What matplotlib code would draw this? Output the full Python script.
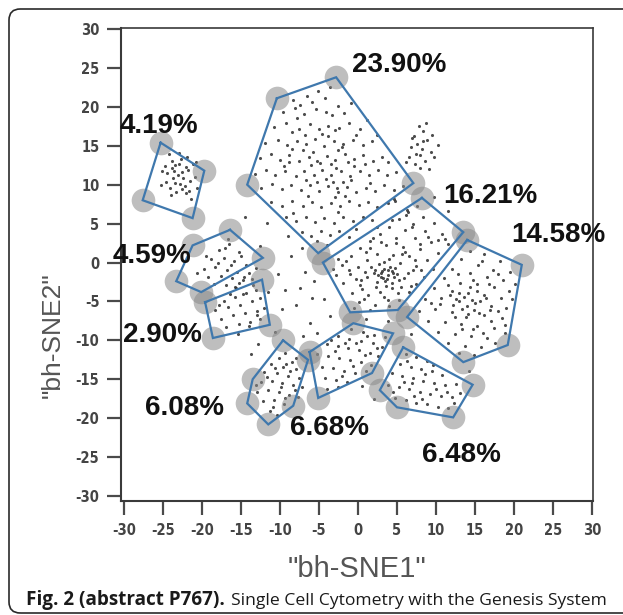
import matplotlib
matplotlib.use("Agg")
import matplotlib.pyplot as plt
import numpy as np
from matplotlib import font_manager
from matplotlib.font_manager import FontProperties
from matplotlib.patches import FancyBboxPatch

# ---- gate outlines (bh-SNE coordinates) ----
gate_labels = ["4.19%", "23.90%", "16.21%", "14.58%", "4.59%",
               "2.90%", "6.08%", "6.68%", "6.48%"]

gate_419 = [(-25.3, 15.4), (-19.7, 11.8), (-21.2, 5.7), (-27.6, 8.0)]
gate_2390 = [(-10.4, 21.1), (-2.8, 23.8), (7.1, 10.2), (-5.1, 1.2), (-14.2, 10.0)]
gate_1621 = [(8.2, 8.3), (13.5, 3.9), (5.1, -6.1), (-1.0, -6.4), (-4.5, 0.0)]
gate_1458 = [(14.0, 2.9), (21.0, -0.3), (19.2, -10.6), (13.5, -12.8), (6.3, -7.0)]
gate_459 = [(-16.4, 4.2), (-12.2, 0.6), (-20.1, -3.8), (-23.3, -2.4), (-21.2, 2.2)]
gate_290 = [(-19.6, -5.1), (-12.3, -2.2), (-11.3, -8.0), (-18.6, -9.7)]
gate_608 = [(-9.6, -10.0), (-6.4, -12.5), (-8.3, -18.4), (-11.5, -20.8),
            (-14.2, -18.1), (-13.5, -15.0)]
gate_668 = [(-6.2, -11.5), (-0.6, -7.8), (4.5, -9.1), (1.8, -14.2), (-5.1, -17.4)]
gate_648 = [(5.8, -10.9), (14.7, -15.7), (12.2, -19.9), (5.0, -18.6), (2.8, -16.4)]

gates = [gate_419, gate_2390, gate_1621, gate_1458, gate_459,
         gate_290, gate_608, gate_668, gate_648]

# label anchor (left edge, baseline) for each gate percentage
label_x = [-30.5, -0.8, 10.9, 19.7, -31.4, -30.1, -27.3, -8.7, 8.2]
label_y = [16.6, 24.5, 7.65, 2.6, -0.06, -10.2, -19.6, -22.2, -25.6]

# ---- events (cells) ----
cells_419 = [(-23.1,11.2),(-22.4,10.8),(-23.8,12.1),(-22.9,12.6),(-24.5,11.5),(-21.8,11.9),
    (-22.2,9.8),(-23.5,10.2),(-24.1,9.6),(-21.5,10.5),(-22.7,13.3),(-23.9,13.0),(-24.8,12.4),
    (-21.2,12.7),(-20.9,11.0),(-22.0,8.9),(-23.3,9.0),(-24.6,10.3),(-25.1,11.8),(-22.5,11.6),
    (-23.6,11.7),(-21.9,13.6),(-20.6,9.6),(-21.4,8.2),(-23.0,14.1),(-24.2,14.0),(-25.3,10.0),
    (-22.8,10.1),(-23.4,12.5),(-21.7,9.2),(-24.0,8.7),(-22.1,12.3),(-20.8,12.9),(-23.7,10.8),
    (-22.6,9.4)]

cells_2390 = [(-8.3,20.9),(-6.5,21.4),(-5.1,22.0),(-4.2,21.1),(-7.4,20.2),(-3.6,22.6),(-5.9,20.6),
    (-9.6,19.3),(-8.1,19.8),(-6.9,19.1),(-5.4,19.7),(-4.1,19.4),(-2.6,20.1),(-1.8,19.2),(-3.3,18.9),
    (-7.8,18.6),(-0.9,20.5),
    (-10.8,17.4),(-9.2,17.9),(-7.6,17.2),(-6.2,17.8),(-5.0,17.1),(-3.8,17.6),(-2.4,17.3),(-1.1,17.9),
    (0.3,17.2),(-8.5,16.8),(-4.6,16.5),(-0.2,16.4),(1.2,18.3),
    (-11.9,15.3),(-10.3,15.8),(-9.1,15.1),(-7.8,15.6),(-6.6,15.2),(-5.5,15.9),(-4.3,15.0),(-3.1,15.6),
    (-1.9,15.2),(-0.7,15.8),(0.6,15.1),(1.8,15.6),(2.4,16.4),(-8.4,14.6),(-2.5,14.4),
    (-12.6,13.4),(-11.2,13.9),(-10.0,13.2),(-8.9,13.8),(-7.5,13.1),(-6.3,13.6),(-5.2,13.0),(-4.0,13.7),
    (-2.9,13.2),(-1.6,13.9),(-0.5,13.3),(0.7,13.8),(1.9,13.1),(3.1,13.6),(3.8,12.9),(-3.5,12.6),
    (-6.0,12.5),(-9.5,12.4),
    (-13.2,11.4),(-11.8,11.9),(-10.6,11.2),(-9.3,11.7),(-8.0,11.1),(-6.9,11.8),(-5.7,11.3),(-4.6,11.9),
    (-3.4,11.2),(-2.2,11.7),(-1.0,11.1),(0.2,11.8),(1.4,11.3),(2.6,11.9),(3.7,11.2),(4.9,11.6),
    (-2.8,12.2),(-4.1,10.7),(-0.5,12.4),
    (-12.4,9.6),(-11.0,10.1),(-9.8,9.4),(-8.6,10.0),(-7.3,9.3),(-6.1,9.9),(-5.0,9.2),(-3.8,9.8),
    (-2.6,9.1),(-1.4,9.7),(-0.2,9.0),(1.0,9.6),(2.2,9.2),(3.4,9.9),(4.6,9.3),(5.8,9.8),(-6.6,10.6),
    (-1.9,10.4),
    (-11.1,7.8),(-9.7,7.2),(-8.4,7.9),(-7.1,7.3),(-5.9,7.8),(-4.7,7.1),(-3.5,7.7),(-2.3,7.2),
    (-1.1,7.9),(0.1,7.4),(1.3,7.8),(2.5,7.1),(3.8,7.6),(4.6,8.2),(-6.4,8.5),(-2.9,8.4),
    (-9.2,5.8),(-7.9,5.3),(-6.7,5.9),(-5.5,5.2),(-4.3,5.7),(-3.1,5.1),(-1.9,5.8),(-0.7,5.3),
    (0.6,5.9),(1.8,5.4),(-8.3,6.4),(-2.5,6.5),
    (-7.2,3.9),(-6.0,3.4),(-4.8,4.1),(-3.6,3.5),(-2.4,4.0),(-1.2,3.3),(-0.3,4.3),(-5.3,2.7),(-4.0,2.2),
    (-3.2,10.3),(-4.9,12.8),(-1.3,12.9),(-2.1,14.8),(-5.8,14.2),(-0.9,10.6),(-3.9,16.2),(-7.0,14.4),
    (0.9,12.6),(-2.7,9.6),(-5.3,10.4),(-1.6,8.6),(1.6,10.2),(-8.9,12.9),(-6.8,16.4),(-3.0,17.0)]

cells_side = [(7.8,17.6),(8.4,16.9),(7.2,16.3),(8.9,15.8),(7.6,15.2),(8.2,14.6),(6.8,14.9),
    (9.3,14.2),(7.9,13.8),(6.5,13.5),(8.6,13.1),(9.8,13.6),(7.3,12.6),(8.0,12.2),(9.1,12.0),
    (6.9,16.0),(8.7,17.9),(7.5,14.0),(10.2,15.1),(6.2,12.9),(8.3,15.6),(9.5,16.4)]

cells_1621 = [(7.6,7.2),(6.4,6.5),(8.3,5.9),(9.7,5.1),(5.2,5.6),(7.1,5.0),(4.0,4.6),(6.0,4.2),
    (8.6,4.0),(10.8,3.6),(2.8,3.7),(4.9,3.1),(7.3,3.2),(9.4,2.6),(11.6,2.4),(1.5,2.8),(3.6,2.2),
    (5.8,2.0),(8.0,1.7),(10.2,1.2),(0.3,1.9),(2.4,1.1),(4.5,1.0),(6.6,0.8),(8.9,0.3),(-0.9,0.8),
    (1.2,0.3),(3.3,0.1),(5.4,-0.1),(7.5,-0.5),(9.6,-0.8),(-2.1,-0.3),(0.0,-0.6),(2.2,-0.9),
    (4.3,-1.1),(6.4,-1.4),(8.5,-1.8),(-3.2,-0.8),(-1.0,-1.5),(1.1,-1.8),(3.2,-2.0),(5.3,-2.3),
    (7.4,-2.7),(-1.9,-2.6),(0.2,-2.9),(2.3,-3.1),(4.4,-3.3),(6.5,-3.8),(-0.8,-3.9),(1.3,-4.2),
    (3.4,-4.4),(5.3,-4.8),(0.1,-5.1),(2.2,-5.5),(4.0,-5.6),(-0.5,-5.8),(1.6,-6.1),
    (3.0,-1.3),(3.8,-1.6),(4.1,-0.6),(2.7,-0.2),(3.5,-2.4),(4.6,-1.9),(2.9,-1.9),(3.9,-0.9),
    (4.8,-0.7),(2.4,-2.5),(3.3,-0.8),(4.3,-2.6),(5.0,-1.5),(2.0,-1.4),(3.6,-3.0),(1.7,-0.6),
    (6.9,4.6),(5.5,-3.1),(-2.8,-1.6),(0.8,-4.7),(9.0,3.3),(7.0,-0.9),(1.9,3.2),(-1.5,0.2),
    (6.1,6.1),(11.2,3.0),(2.5,4.6),(4.4,5.4),(7.9,2.4),(10.3,2.9),(0.9,-1.2),(5.9,-2.0),
    (-0.3,-2.1),(3.9,-4.8),(6.0,1.4),(1.6,1.9),(-2.6,0.4),(8.1,-1.0),(2.8,-3.8),(4.9,2.5),
    (0.5,-3.4),(6.8,-3.0),(3.1,-1.1),(4.5,-1.4),(2.6,-1.6),(3.7,-2.1),(4.0,0.4),(5.7,1.1),
    (1.0,1.4),(-1.2,-0.9),(7.3,0.3),(2.9,2.6),(0.4,-2.3),(5.1,-3.9)]

cells_1458 = [(14.3,1.5),(16.1,1.1),(18.2,0.2),(13.2,0.4),(15.4,-0.3),(17.3,-0.9),(19.5,-1.2),
    (12.1,-0.8),(14.4,-1.4),(16.5,-1.9),(18.6,-2.3),(20.1,-2.8),(11.0,-2.0),(13.1,-2.6),
    (15.3,-2.8),(17.4,-3.2),(19.3,-3.6),(9.8,-3.3),(12.0,-3.6),(14.1,-3.9),(16.2,-4.2),
    (18.3,-4.5),(8.6,-4.7),(10.7,-4.6),(12.9,-5.0),(15.0,-5.2),(17.1,-5.6),(19.0,-5.9),
    (7.8,-6.2),(9.9,-6.0),(12.0,-6.3),(14.1,-6.6),(16.2,-6.8),(18.4,-7.1),(9.0,-7.5),
    (11.1,-7.7),(13.2,-7.9),(15.3,-8.1),(17.4,-8.4),(18.8,-9.0),(10.3,-8.9),(12.4,-9.2),
    (14.5,-9.4),(16.6,-9.7),(11.6,-10.4),(13.7,-10.7),(15.8,-10.9),(17.6,-10.3),(13.0,-11.6),
    (14.9,-11.9),
    (13.6,-4.4),(14.6,-4.8),(15.2,-3.6),(13.0,-3.9),(14.0,-5.6),(15.7,-5.0),(12.6,-4.7),
    (14.9,-6.1),(13.4,-6.0),(16.4,-4.6),(12.2,-5.5),(15.5,-6.5),(14.3,-3.2),(13.8,-7.0),
    (17.9,-1.5),(19.8,-4.7),(10.5,-5.3),(16.0,-9.0),(12.8,-1.5),(18.0,-6.2),(11.5,-2.9),
    (15.9,0.2),(17.0,-7.5),(14.8,-8.6),(9.4,-5.2),(16.8,-2.8),(13.3,-8.6),(11.8,-4.2),
    (16.9,-6.1),(14.7,-2.2),(12.5,-7.0),(18.9,-8.0)]

cells_459 = [(-17.8,1.6),(-16.5,2.4),(-15.3,1.3),(-18.9,0.4),(-17.2,0.6),(-15.9,0.2),(-14.4,-0.3),
    (-19.8,-0.8),(-18.3,-0.6),(-16.8,-0.9),(-15.5,-1.2),(-14.0,-1.4),(-13.1,-0.7),(-19.2,-1.9),
    (-17.6,-1.7),(-16.1,-2.0),(-14.8,-2.3),(-18.4,-2.8),(-16.9,-2.9),(-15.3,-2.6),(-20.6,-1.4),
    (-17.0,1.9),(-15.0,0.9),(-16.3,-0.3),(-18.0,-0.1),(-14.6,-1.8),(-13.6,-2.1),(-16.7,3.0),
    (-19.5,0.9),(-15.8,-3.2)]

cells_290 = [(-17.2,-4.9),(-15.8,-4.4),(-14.3,-3.9),(-13.1,-3.5),(-18.3,-6.1),(-16.7,-5.7),
    (-15.1,-5.4),(-13.6,-5.0),(-12.5,-4.6),(-17.5,-7.2),(-16.0,-6.8),(-14.5,-6.5),(-13.0,-6.2),
    (-12.0,-5.8),(-16.9,-8.3),(-15.2,-7.9),(-13.8,-7.6),(-12.6,-7.3),(-14.8,-4.0),(-13.4,-2.9),
    (-15.6,-3.3),(-17.8,-5.5),(-14.0,-8.2),(-16.4,-4.0),(-12.9,-6.7)]

cells_608 = [(-9.3,-11.6),(-10.1,-12.3),(-8.5,-12.8),(-11.2,-13.0),(-9.6,-13.4),(-8.0,-13.7),
    (-12.0,-14.1),(-10.4,-14.2),(-9.0,-14.6),(-7.6,-14.9),(-12.4,-15.4),(-11.0,-15.2),
    (-9.7,-15.5),(-8.3,-15.8),(-7.2,-16.0),(-12.9,-16.6),(-11.5,-16.4),(-10.1,-16.7),
    (-8.8,-17.0),(-7.7,-17.3),(-12.2,-17.8),(-10.8,-17.7),(-9.5,-18.2),(-11.3,-19.1),
    (-10.4,-19.6),(-9.2,-13.1),(-8.7,-14.0),(-10.6,-13.6),(-9.9,-16.0),(-8.1,-16.4),
    (-11.7,-14.7),(-13.1,-15.8),(-7.9,-12.3),(-10.9,-18.5),(-9.4,-17.4)]

cells_668 = [(-0.9,-8.6),(0.6,-8.9),(2.1,-9.3),(3.5,-9.6),(-2.5,-9.4),(-1.1,-9.8),(0.4,-10.1),
    (1.9,-10.4),(3.1,-10.9),(-4.0,-10.5),(-2.6,-10.7),(-1.3,-11.0),(0.1,-11.3),(1.5,-11.6),
    (2.6,-12.0),(-5.2,-11.8),(-3.8,-12.0),(-2.4,-12.3),(-1.0,-12.5),(0.4,-12.8),(1.7,-13.2),
    (-4.6,-13.4),(-3.2,-13.6),(-1.8,-13.9),(-0.4,-14.2),(1.0,-14.0),(-4.2,-14.9),(-2.8,-15.1),
    (-1.4,-15.4),(-4.0,-16.3),(-2.6,-16.0),(-0.2,-10.4),(-1.7,-10.3),(0.9,-11.9),(-3.0,-11.4),
    (2.4,-11.0),(-0.6,-13.3),(-2.1,-14.6),(1.2,-9.5),(-3.5,-9.9)]

cells_648 = [(6.2,-11.8),(7.5,-12.2),(8.8,-12.7),(5.4,-13.0),(6.8,-13.4),(8.1,-13.7),(9.5,-14.0),
    (10.8,-14.4),(4.3,-14.2),(5.7,-14.6),(7.0,-14.9),(8.4,-15.2),(9.8,-15.5),(11.2,-15.8),
    (12.6,-15.6),(3.8,-15.7),(5.2,-16.0),(6.5,-16.3),(7.9,-16.6),(9.2,-16.9),(10.6,-17.1),
    (12.0,-17.3),(13.1,-16.8),(4.8,-17.4),(6.1,-17.7),(7.5,-18.0),(8.9,-18.2),(10.3,-18.5),
    (11.6,-18.7),(6.9,-15.5),(8.6,-14.3),(10.0,-16.2),(7.2,-17.2),(9.6,-13.2),(5.9,-15.3),
    (11.4,-16.6),(8.2,-17.5),(6.3,-12.6),(12.3,-18.1),(4.5,-16.6)]

cells_ungated = [(-10.2,-1.5),(-9.4,-3.5),(-7.4,-3.3),(-8.6,0.8),(-6.8,-1.2),(-11.5,-3.8),
    (-7.9,-5.4),(-5.9,-4.6),(-9.8,-6.0),(-6.2,-7.8),(-3.6,-6.9),(-12.5,2.1),(-9.0,3.4),
    (-7.2,1.9),(-5.6,-2.4),(-4.4,-4.7),(6.3,6.8),(4.8,7.9),(9.8,8.4),(11.5,6.6),(-14.5,5.8),
    (-11.6,5.1),(-10.6,-8.9),(-7.0,-9.5),(-5.3,-9.0),(3.9,-7.5),(6.8,-9.2),(1.0,-7.2),
    (-12.8,-10.5),(-13.7,-11.8),(2.0,-17.5),(0.5,-15.9),(14.2,-14.0),(-15.4,-9.2)]

all_cells = np.array(cells_419 + cells_2390 + cells_side + cells_1621 + cells_1458 +
                     cells_459 + cells_290 + cells_608 + cells_668 + cells_648 + cells_ungated)

tick_values = [-30, -25, -20, -15, -10, -5, 0, 5, 10, 15, 20, 25, 30]


def pick_font(candidates):
    names = {f.name for f in font_manager.fontManager.ttflist}
    for c in candidates:
        if c in names:
            return c
    return "DejaVu Sans"


def narrow_bold_font():
    """Return FontProperties for a narrow/condensed bold sans face if one is installed."""
    best = None
    for f in font_manager.fontManager.ttflist:
        nm = f.name.lower()
        fn = f.fname.lower()
        narrow = ("narrow" in nm or "condensed" in nm or "condensed" in fn
                  or "narrow" in fn or str(f.stretch) in ("condensed", "semi-condensed"))
        if not narrow or "mono" in nm or "serif" in nm and "sans" not in nm:
            continue
        w = f.weight if isinstance(f.weight, int) else (700 if "bold" in str(f.weight) else 400)
        if "oblique" in fn or "italic" in fn:
            continue
        if w >= 600:
            return FontProperties(fname=f.fname)
        if best is None:
            best = f.fname
    if best is not None:
        return FontProperties(fname=best, weight="bold")
    return None


tick_fp = narrow_bold_font()
label_font = pick_font(["Liberation Sans", "Arial", "DejaVu Sans"])
caption_font = pick_font(["Open Sans", "Noto Sans", "DejaVu Sans"])

W, H = 623, 615
fig = plt.figure(figsize=(W / 100, H / 100), dpi=100)
fig.patch.set_facecolor("white")

# rounded frame around the figure panel
frame = FancyBboxPatch((9 / W, 1 - 613 / H), (650 - 9) / W, (613 - 9) / H,
                       boxstyle="round,pad=0,rounding_size=0.018",
                       transform=fig.transFigure, fill=False,
                       edgecolor="#2a2a2a", linewidth=1.2, zorder=0)
fig.patches.append(frame)

ax = fig.add_axes([121 / W, 1 - 501 / H, (593 - 121) / W, (501 - 28) / H])
ax.set_xlim(-30.38, 30.13)
ax.set_ylim(-30.64, 30.13)

# events
ax.scatter(all_cells[:, 0], all_cells[:, 1], s=5, c="#2e2e2e", linewidths=0,
           alpha=0.85, zorder=2)

# gate vertex handles and outlines
for g in gates:
    pts = np.array(g)
    ax.scatter(pts[:, 0], pts[:, 1], s=290, c="#8a8a8a", alpha=0.55,
               linewidths=0, zorder=3, clip_on=False)
    closed = np.vstack([pts, pts[:1]])
    ax.plot(closed[:, 0], closed[:, 1], color="#3f78ad", lw=1.6, zorder=4,
            solid_joinstyle="miter")

# gate percentages
for txt, lx, ly in zip(gate_labels, label_x, label_y):
    ax.text(lx, ly, txt, ha="left", va="baseline", fontsize=20,
            fontweight="bold", family=label_font, color="#111111",
            zorder=6, clip_on=False)

ax.set_xticks(tick_values)
ax.set_yticks(tick_values)
ax.set_xticklabels([str(v) for v in tick_values])
ax.set_yticklabels([str(v) for v in tick_values])
ax.tick_params(direction="out", length=10, width=1.6, color="#4a4a4a",
               pad=5.5, labelcolor="#444444")
for lab in ax.get_xticklabels() + ax.get_yticklabels():
    if tick_fp is not None:
        lab.set_fontproperties(tick_fp)
        lab.set_fontsize(10.5)
    else:
        lab.set_family("DejaVu Sans")
        lab.set_fontweight("bold")
        lab.set_fontsize(8.5)
for side, sp in ax.spines.items():
    sp.set_color("#3a3a3a")
    sp.set_linewidth(1.5 if side in ("left", "bottom") else 1.2)

# axis titles
fig.text(357 / W, 1 - 577 / H, '"bh-SNE1"', ha="center", va="baseline",
         fontsize=21, family=label_font, color="#555555")
fig.text(53 / W, 1 - 272 / H, '"bh-SNE2"', ha="right", va="center",
         rotation=90, rotation_mode="anchor", fontsize=19, family=label_font,
         color="#555555")

# caption: bold lead-in followed by regular text
fig.canvas.draw()
renderer = fig.canvas.get_renderer()
cap_y = 1 - 605 / H
lead = fig.text(26 / W, cap_y, "Fig. 2 (abstract P767).", ha="left", va="baseline",
                fontsize=13.6, fontweight="bold", family=caption_font, color="#1a1a1a")
bb = lead.get_window_extent(renderer=renderer)
fig.text(bb.x1 / W + 6 / W, cap_y, "Single Cell Cytometry with the Genesis System",
         ha="left", va="baseline", fontsize=12.6, family=caption_font, color="#1a1a1a")

fig.savefig("out.png", dpi=100, facecolor="white")
